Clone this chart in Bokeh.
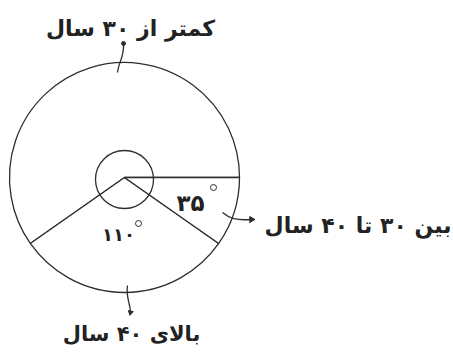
import math
from bokeh.plotting import figure
from bokeh.models import Range1d, ColumnDataSource
from bokeh.core.properties import value
from bokeh.embed import file_html
from bokeh.resources import INLINE

# ---- data ----
categories = ["کمتر از ۳۰ سال", "بین ۳۰ تا ۴۰ سال", "بالای ۴۰ سال"]
angles_deg = [215, 35, 110]
# drawing order counter-clockwise starting at 0 degrees
draw_order = [0, 2, 1]

FA = str.maketrans("0123456789", "۰۱۲۳۴۵۶۷۸۹")
def fa(n):
    return str(n).translate(FA)

W, H = 453, 354
def Y(py):
    return H - py

p = figure(width=W, height=H, output_backend="svg", toolbar_location=None,
           x_range=Range1d(0, W), y_range=Range1d(0, H), min_border=0)
p.axis.visible = False
p.grid.visible = False
p.outline_line_color = None
p.background_fill_color = "white"
p.border_fill_color = "white"

cx, cy, R = 124, Y(177), 115
ink = "#2e2e2e"

# wedges
starts, ends = [], []
a = 0.0
for i in draw_order:
    starts.append(math.radians(a))
    a += angles_deg[i]
    ends.append(math.radians(a))
src = ColumnDataSource(dict(x=[cx]*3, y=[cy]*3, s=starts, e=ends))
p.wedge(x="x", y="y", radius=R, start_angle="s", end_angle="e", source=src,
        fill_color="white", line_color=ink, line_width=1.3)

# inner angle marker circle
p.circle(x=[cx], y=[Y(179)], radius=29, fill_color=None, line_color=ink, line_width=1.3)

font = value("DejaVu Sans")
# category labels
p.text(x=[130], y=[Y(28)], text=[categories[0]], text_font=font, text_font_style="bold",
       text_font_size="22px", text_align="center", text_baseline="middle", text_color="#222")
p.text(x=[451], y=[Y(225)], text=[categories[1]], text_font=font, text_font_style="bold",
       text_font_size="22px", text_align="right", text_baseline="middle", text_color="#222")
p.text(x=[131], y=[Y(333)], text=[categories[2]], text_font=font, text_font_style="bold",
       text_font_size="21px", text_align="center", text_baseline="middle", text_color="#222")

# angle values
p.text(x=[190], y=[Y(202)], text=[fa(angles_deg[1])], text_font=font, text_font_style="bold",
       text_font_size="23px", text_align="center", text_baseline="middle", text_color="#222")
p.text(x=[118], y=[Y(234)], text=[fa(angles_deg[2])], text_font=font, text_font_style="bold",
       text_font_size="18px", text_align="center", text_baseline="middle", text_color="#222")
# degree marks
p.circle(x=[213, 138], y=[Y(187), Y(223)], radius=3, fill_color=None, line_color=ink, line_width=1)

# leader lines
p.bezier(x0=[123, 222, 127], y0=[Y(43), Y(212), Y(285)],
         x1=[117, 250, 130], y1=[Y(72), Y(219), Y(312)],
         cx0=[124, 229, 125], cy0=[Y(56), Y(218), Y(296)],
         cx1=[118, 236, 130], cy1=[Y(62), Y(220), Y(304)],
         line_color=ink, line_width=1.3)
p.scatter(x=[123], y=[Y(43)], size=4, marker="circle", color=ink)
p.scatter(x=[251], y=[Y(219)], size=6, marker="triangle", angle=-math.pi/2, color=ink)
p.scatter(x=[130], y=[Y(312)], size=5, marker="triangle", angle=math.pi - 0.2, color=ink)

open("out.html", "w").write(file_html(p, INLINE))
